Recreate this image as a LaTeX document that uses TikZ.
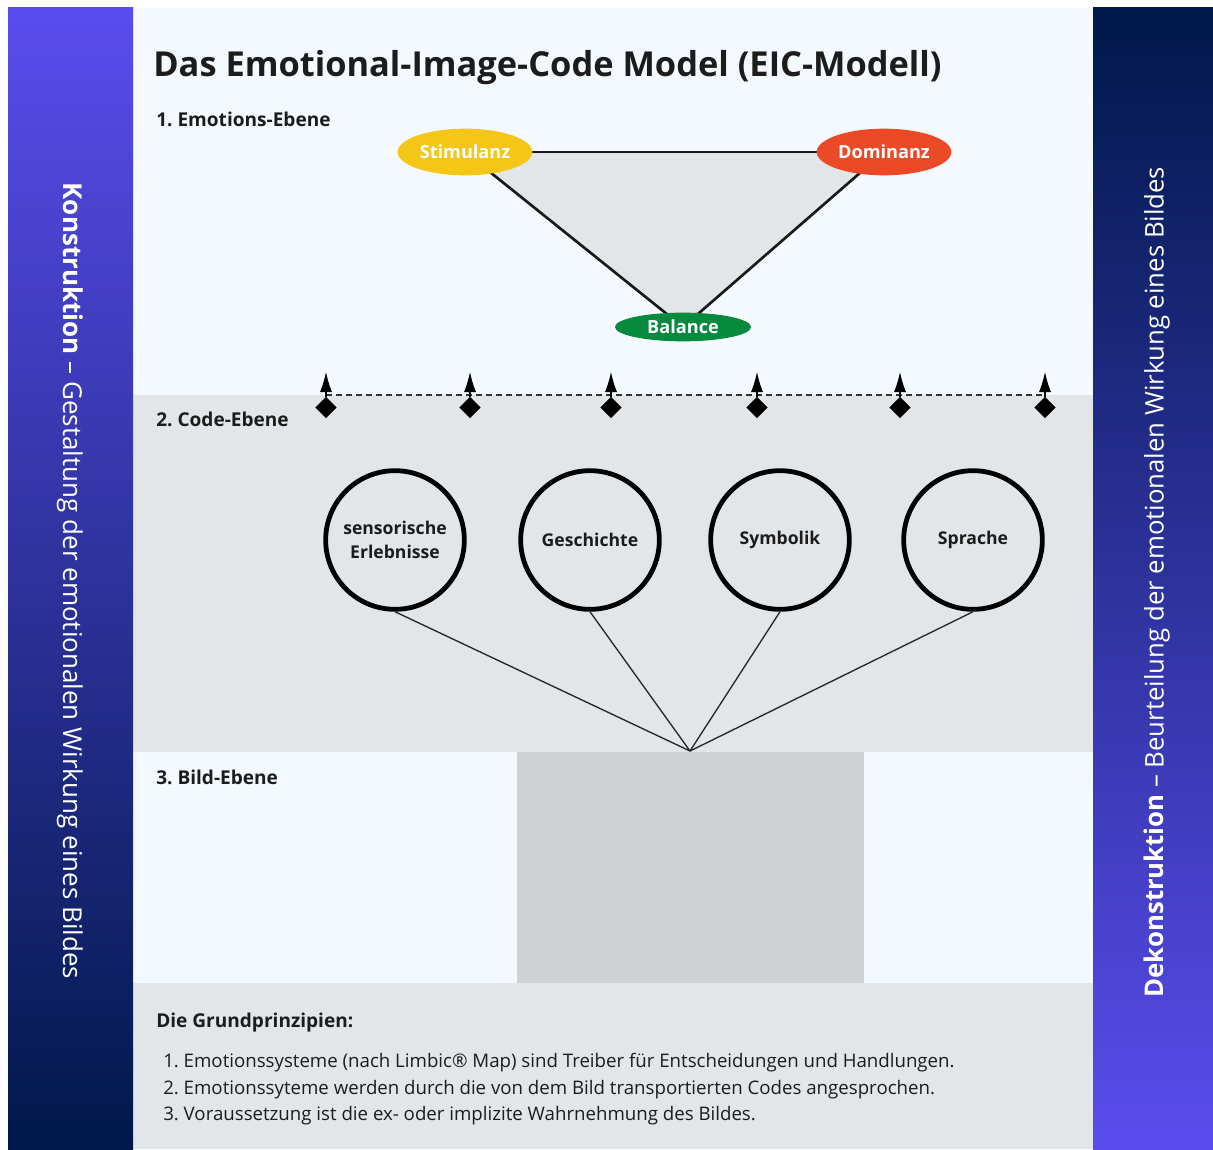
\documentclass[tikz,border=0pt]{standalone}
\usepackage{fontspec}
\setmainfont{Open Sans}
\usetikzlibrary{shapes.geometric,arrows.meta}

\definecolor{panellight}{HTML}{F3F9FE}
\definecolor{panelgray}{HTML}{E2E6E9}
\definecolor{imagebox}{HTML}{CFD2D4}
\definecolor{trianglefill}{HTML}{E3E6E8}
\definecolor{barviolet}{HTML}{5A4CEE}
\definecolor{barnavy}{HTML}{00184A}
\definecolor{stimcol}{HTML}{F4C618}
\definecolor{domcol}{HTML}{EC4A26}
\definecolor{balcol}{HTML}{068A3E}
\definecolor{inkcol}{HTML}{1C1C1C}

\begin{document}
\frenchspacing
\begin{tikzpicture}[x=0.75pt,y=-0.75pt,
  heading/.style={anchor=base west, text=inkcol, font=\bfseries\fontsize{14.3}{17}\selectfont, inner sep=0},
  emotion/.style={ellipse, inner sep=0, text=white, font=\bfseries\fontsize{13.6}{16}\selectfont},
  codecircle/.style={circle, draw=black, line width=3.6pt, minimum size=104pt, inner sep=0,
    text=inkcol, align=center, font=\bfseries\fontsize{13.2}{18}\selectfont},
  edge/.style={draw=black!90, line width=2pt},
  spoke/.style={draw=black!85, line width=1pt},
  marker/.style={diamond, fill=black, minimum width=16pt, minimum height=16pt, inner sep=0},
  listitem/.style={anchor=base west, text=inkcol, font=\fontsize{14}{17}\selectfont, inner sep=0},
  sidetext/.style={text=white, font=\fontsize{19.5}{23}\selectfont, inner sep=0}
]
\useasboundingbox (0,0) rectangle (1213,1149);
\fill[white] (0,0) rectangle (1213,1149);

% level panels
\fill[panellight] (133,8) rectangle (1093,395);
\fill[panelgray] (133,395) rectangle (1093,752);
\fill[panellight] (133,752) rectangle (1093,983);
\fill[imagebox] (517,752) rectangle (864,983);
\fill[panelgray] (133,983) rectangle (1093,1149);

% side bars with gradients
\shade[top color=barviolet, bottom color=barnavy] (8,8) rectangle (133,1149);
\shade[top color=barnavy, bottom color=barviolet] (1093,8) rectangle (1213,1149);

\node[sidetext, rotate=-90] (leftside) at (70,581)
  {\textbf{Konstruktion} – Gestaltung der emotionalen Wirkung eines Bildes};
\node[sidetext, rotate=90, font=\fontsize{19.3}{23}\selectfont] (rightside) at (1157,582)
  {\textbf{Dekonstruktion} – Beurteilung der emotionalen Wirkung eines Bildes};

% title and level headings
\node[anchor=base west, text=inkcol, inner sep=0, font=\bfseries\fontsize{25.8}{30}\selectfont]
  (title) at (153,76) {Das Emotional-Image-Code Model (EIC-Modell)};
\node[heading] (lvl1) at (156,126) {1. Emotions-Ebene};
\node[heading] (lvl2) at (156,426) {2. Code-Ebene};
\node[heading] (lvl3) at (156,784) {3. Bild-Ebene};
\node[heading] (principles) at (156,1027) {Die Grundprinzipien:};

% emotion triangle: fill and edges first, ellipses on top
\coordinate (stimc) at (465,152);
\coordinate (domc) at (884,152);
\coordinate (balc) at (683,327);
\fill[trianglefill] (stimc) -- (domc) -- (balc) -- cycle;
\draw[edge] (stimc) -- (domc);
\draw[edge] (stimc) -- (balc);
\draw[edge] (domc) -- (balc);
\node[emotion, fill=stimcol, minimum width=101pt, minimum height=35pt] (stim) at (stimc) {Stimulanz};
\node[emotion, fill=domcol, minimum width=101pt, minimum height=35pt] (dom) at (domc) {Dominanz};
\node[emotion, fill=balcol, minimum width=102pt, minimum height=21.5pt] (bal) at (balc) {Balance};

% boundary between emotion and code level with markers
\coordinate (lineL) at (326,395);
\coordinate (lineR) at (1045,395);
\draw[black!80, line width=1.1pt, dash pattern=on 4.5pt off 3pt] (lineL) -- (lineR);
\foreach \i/\x in {1/326,2/470,3/611,4/757,5/900,6/1045}{
  \node[marker] (m\i) at (\x,407.5) {};
  \coordinate (t\i) at (\x,372);
  \draw[black, line width=0.8pt, -{Latex[length=15pt,width=9pt]}] (m\i.north) -- (t\i);
}

% code circles
\node[codecircle] (c1) at (395,540) {sensorische\\Erlebnisse};
\node[codecircle] (c2) at (590,540) {Geschichte};
\node[codecircle] (c3) at (780,540) {Symbolik};
\node[codecircle] (c4) at (973,540) {Sprache};
\coordinate (hub) at (690,751);
\foreach \i in {1,...,4}{\draw[spoke] (c\i.south) -- (hub);}

% principles
\node[listitem] (p1) at (163,1067) {1. Emotionssysteme (nach Limbic® Map) sind Treiber für Entscheidungen und Handlungen.};
\node[listitem] (p2) at (163,1094) {2. Emotionssyteme werden durch die von dem Bild transportierten Codes angesprochen.};
\node[listitem] (p3) at (163,1120) {3. Voraussetzung ist die ex- oder implizite Wahrnehmung des Bildes.};
\end{tikzpicture}
\end{document}
